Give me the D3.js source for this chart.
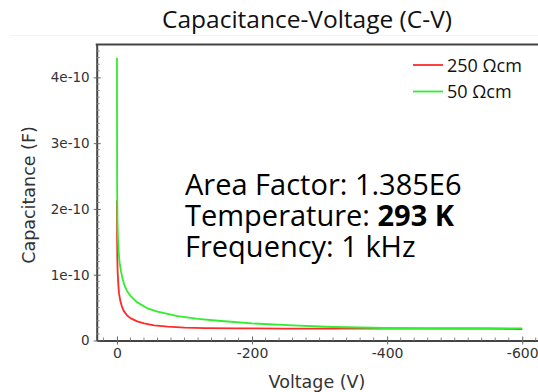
<!DOCTYPE html>
<html>
<head>
<meta charset="utf-8">
<script src="https://cdn.jsdelivr.net/npm/d3@7"></script>
<style>
  html, body { margin: 0; padding: 0; background: #fff; }
  svg { display: block; }
</style>
</head>
<body>
<svg id="chart" width="538" height="392"></svg>
<script>
// ---- Data (capacitance in F, voltage in V) ----
const seriesNames = ["250 Ωcm", "50 Ωcm"];
const seriesColors = ["#ff2b2b", "#2eee2e"];

const redVoltage = [0, -0.2, -0.5, -1, -2, -3, -5, -7.5, -10, -15, -20, -30, -40, -55, -75, -100, -130, -180, -250, -350, -450, -550, -585, -600];
const redCap = [2.13e-10, 1.6e-10, 1.25e-10, 1.05e-10, 0.85e-10, 0.72e-10, 0.6e-10, 0.51e-10, 0.45e-10, 0.38e-10, 0.34e-10, 0.29e-10, 0.26e-10, 0.23e-10, 0.21e-10, 0.195e-10, 0.188e-10, 0.184e-10, 0.182e-10, 0.181e-10, 0.18e-10, 0.18e-10, 0.177e-10, 0.172e-10];

const greenVoltage = [0, -0.1, -0.3, -0.7, -1.5, -2.5, -4, -6, -8, -11, -15, -20, -30, -45, -60, -90, -120, -150, -200, -260, -320, -395, -450, -520, -600];
const greenCap = [4.30e-10, 3.3e-10, 2.3e-10, 1.85e-10, 1.55e-10, 1.35e-10, 1.18e-10, 1.05e-10, 0.95e-10, 0.84e-10, 0.75e-10, 0.68e-10, 0.58e-10, 0.49e-10, 0.44e-10, 0.37e-10, 0.33e-10, 0.30e-10, 0.26e-10, 0.23e-10, 0.205e-10, 0.19e-10, 0.187e-10, 0.186e-10, 0.185e-10];

const xTicks = [0, -200, -400, -600];
const yTicks = [0, 1e-10, 2e-10, 3e-10, 4e-10];
const yTickLabels = ["0", "1e-10", "2e-10", "3e-10", "4e-10"];

const titleText = "Capacitance-Voltage (C-V)";
const xLabel = "Voltage (V)";
const yLabel = "Capacitance (F)";
const noteLines = [
  [{t: "Area Factor: 1.385E6", b: false}],
  [{t: "Temperature: ", b: false}, {t: "293 K", b: true}],
  [{t: "Frequency: 1 kHz", b: false}]
];

// ---- Layout ----
const svg = d3.select("#chart");
const L = 96.7, R = 542.5, T = 44.5, B = 340.5;

const x = d3.scaleLinear().domain([30, -630]).range([L, R]);
const y = d3.scaleLinear().domain([0, 4.5e-10]).range([B, T]);

const axisColor = "#444";
const labelColor = "#333";
const uiFont = "'Open Sans', 'Noto Sans', sans-serif";
const axFont = "'DejaVu Sans', sans-serif";

// Title
svg.append("text")
  .attr("x", 307).attr("y", 28)
  .attr("text-anchor", "middle")
  .attr("font-family", uiFont)
  .attr("font-size", 24.5)
  .attr("fill", "#111")
  .text(titleText);

// faint separator
svg.append("line")
  .attr("x1", 10).attr("x2", 538).attr("y1", 35.5).attr("y2", 35.5)
  .attr("stroke", "#f2f2f2").attr("stroke-width", 1);

// Minor ticks
const xMinor = d3.range(20, -640, -20).filter(v => v % 200 !== 0);
const yMinor = d3.range(1, 45).map(i => i * 1e-11).filter((v, i) => (i + 1) % 10 !== 0);

const g = svg.append("g");

// Lines
const line = d3.line().x(d => x(d[0])).y(d => y(d[1]));
const redData = redVoltage.map((v, i) => [v, redCap[i]]);
const greenData = greenVoltage.map((v, i) => [v, greenCap[i]]);

g.append("path").datum(redData)
  .attr("d", line).attr("fill", "none")
  .attr("stroke", seriesColors[0]).attr("stroke-width", 1.8)
  .attr("stroke-linejoin", "round");
g.append("path").datum(greenData)
  .attr("d", line).attr("fill", "none")
  .attr("stroke", seriesColors[1]).attr("stroke-width", 1.8)
  .attr("stroke-linejoin", "round");

// X axis
const xAxis = d3.axisBottom(x)
  .tickValues(xTicks)
  .tickSizeInner(4).tickSizeOuter(0)
  .tickPadding(4)
  .tickFormat(d => String(d));
const gx = svg.append("g").attr("transform", `translate(0,${B})`).call(xAxis);
gx.select(".domain").attr("stroke", axisColor).attr("stroke-width", 2);
gx.selectAll(".tick line").attr("stroke", "#666").attr("y1", -4).attr("y2", 4);
gx.selectAll(".tick text").attr("font-family", axFont).attr("font-size", 14).attr("fill", labelColor);

svg.append("g").selectAll("line").data(xMinor).join("line")
  .attr("x1", d => x(d)).attr("x2", d => x(d))
  .attr("y1", B - 3).attr("y2", B)
  .attr("stroke", "#888").attr("stroke-width", 1);

// Y axis
const yAxis = d3.axisLeft(y)
  .tickValues(yTicks)
  .tickSizeInner(4).tickSizeOuter(0)
  .tickPadding(3)
  .tickFormat((d, i) => yTickLabels[i]);
const gy = svg.append("g").attr("transform", `translate(${L},0)`).call(yAxis);
gy.select(".domain").attr("stroke", axisColor).attr("stroke-width", 2);
gy.selectAll(".tick line").attr("stroke", "#666").attr("x1", -3).attr("x2", 4);
gy.selectAll(".tick text").attr("font-family", axFont).attr("font-size", 13.5).attr("fill", labelColor);

svg.append("g").selectAll("line").data(yMinor).join("line")
  .attr("x1", L).attr("x2", L + 3)
  .attr("y1", d => y(d)).attr("y2", d => y(d))
  .attr("stroke", "#888").attr("stroke-width", 1);

// Top frame
svg.append("line")
  .attr("x1", L - 1).attr("x2", R).attr("y1", T).attr("y2", T)
  .attr("stroke", axisColor).attr("stroke-width", 2);

// Axis labels
svg.append("text")
  .attr("x", 317).attr("y", 388)
  .attr("text-anchor", "middle")
  .attr("font-family", axFont).attr("font-size", 17.5)
  .attr("fill", labelColor)
  .text(xLabel);
svg.append("text")
  .attr("transform", "translate(35,195) rotate(-90)")
  .attr("text-anchor", "middle")
  .attr("font-family", axFont).attr("font-size", 17.5)
  .attr("fill", labelColor)
  .text(yLabel);

// Legend
const legend = svg.append("g");
seriesNames.forEach((name, i) => {
  const yy = 65 + i * 26.5;
  legend.append("line")
    .attr("x1", 413).attr("x2", 443).attr("y1", yy).attr("y2", yy)
    .attr("stroke", seriesColors[i]).attr("stroke-width", 1.8);
  legend.append("text")
    .attr("x", 447).attr("y", yy + 6.5)
    .attr("font-family", uiFont).attr("font-size", 18)
    .attr("fill", "#111")
    .text(name);
});

// Annotation
noteLines.forEach((parts, i) => {
  const t = svg.append("text")
    .attr("x", 185).attr("y", 195 + i * 31)
    .attr("font-family", uiFont).attr("font-size", 29)
    .attr("fill", "#000");
  parts.forEach(p => {
    t.append("tspan").attr("font-weight", p.b ? 700 : 400).text(p.t);
  });
});
</script>
</body>
</html>
